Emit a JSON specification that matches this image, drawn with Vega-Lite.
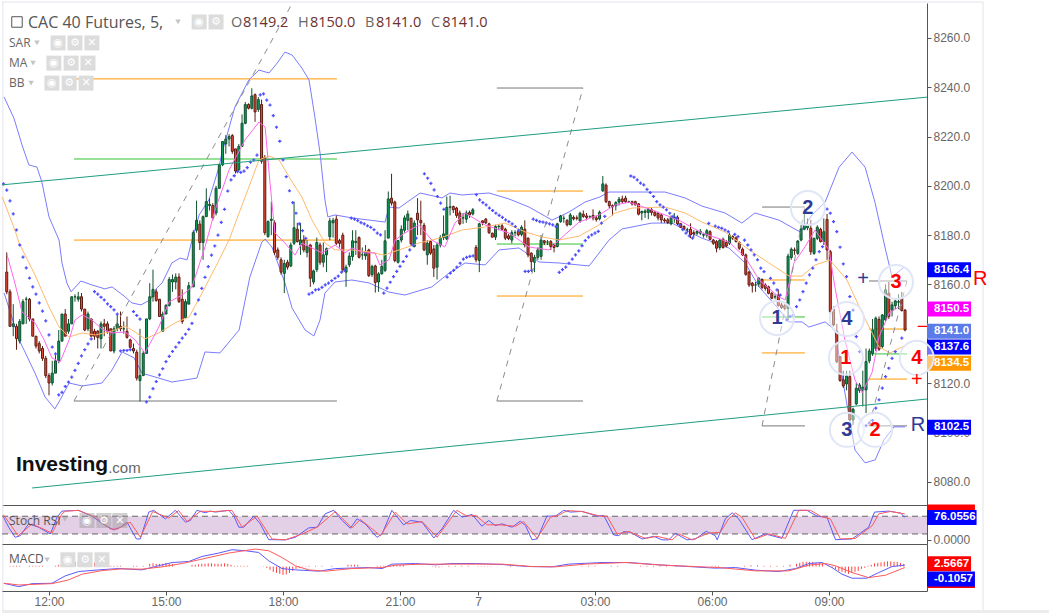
{
"$schema":"https://vega.github.io/schema/vega-lite/v6.json",
"background":"white",
"padding":{"left":0,"top":1,"right":0,"bottom":0},
"spacing":0,
"bounds":"flush",
"config":{"view":{"stroke":null},"font":"Liberation Sans","axis":{"grid":false,"domainColor":"#555","tickColor":"#555","labelColor":"#666","labelFont":"Liberation Sans","labelFontSize":12,"tickSize":4,"labelPadding":2}},
"datasets":{
"candles":[
{"bar":-13,"o":8165,"h":8173,"l":8156,"c":8157},{"bar":-12,"o":8157,"h":8158,"l":8143,"c":8143},{"bar":-11,"o":8143,"h":8152,"l":8139,"c":8144},{"bar":-10,"o":8143,"h":8144,"l":8133.5,"c":8138},{"bar":-9,"o":8137,"h":8146,"l":8136,"c":8145},{"bar":-8,"o":8144,"h":8154,"l":8144,"c":8153},{"bar":-7,"o":8154,"h":8155,"l":8144,"c":8154},{"bar":-6,"o":8154,"h":8154.5,"l":8145,"c":8146},{"bar":-5,"o":8146,"h":8146,"l":8139,"c":8139},{"bar":-4,"o":8139,"h":8139,"l":8134,"c":8135},{"bar":-3,"o":8136,"h":8137,"l":8132,"c":8133},{"bar":-2,"o":8134,"h":8135,"l":8129,"c":8130},{"bar":-1,"o":8130,"h":8131,"l":8122,"c":8123},
{"bar":0,"o":8123,"h":8124,"l":8115,"c":8120},{"bar":1,"o":8120,"h":8129,"l":8119,"c":8124},{"bar":2,"o":8124,"h":8132,"l":8124,"c":8129},{"bar":3,"o":8129,"h":8141.5,"l":8128,"c":8137},{"bar":4,"o":8137,"h":8148,"l":8137,"c":8148},{"bar":5,"o":8148,"h":8150,"l":8139,"c":8139},{"bar":6,"o":8141,"h":8146,"l":8140,"c":8144},{"bar":7,"o":8144,"h":8155,"l":8144,"c":8155},{"bar":8,"o":8155,"h":8156,"l":8153,"c":8155},{"bar":9,"o":8154,"h":8157,"l":8153,"c":8155},{"bar":10,"o":8155,"h":8156.5,"l":8149,"c":8150},{"bar":11,"o":8150,"h":8150,"l":8141,"c":8141.5},{"bar":12,"o":8142,"h":8149,"l":8141,"c":8148},{"bar":13,"o":8146,"h":8146,"l":8139,"c":8139},{"bar":14,"o":8141,"h":8142,"l":8137.5,"c":8139},{"bar":15,"o":8141,"h":8141.5,"l":8134,"c":8138.5},{"bar":16,"o":8138,"h":8145,"l":8134,"c":8144},{"bar":17,"o":8144,"h":8146,"l":8139,"c":8143},{"bar":18,"o":8144,"h":8145,"l":8140,"c":8141},{"bar":19,"o":8142,"h":8142,"l":8133,"c":8133},{"bar":20,"o":8133,"h":8143,"l":8132,"c":8142},{"bar":21,"o":8142,"h":8148,"l":8141,"c":8144},{"bar":22,"o":8143,"h":8149,"l":8141,"c":8142},{"bar":23,"o":8142,"h":8145,"l":8140,"c":8142},{"bar":24,"o":8141,"h":8147,"l":8138,"c":8138.5},{"bar":25,"o":8137.5,"h":8138,"l":8134,"c":8134.5},{"bar":26,"o":8134,"h":8136,"l":8132,"c":8133},{"bar":27,"o":8132.5,"h":8133.5,"l":8121,"c":8122},{"bar":28,"o":8121,"h":8142,"l":8112.5,"c":8123},{"bar":29,"o":8123,"h":8133,"l":8123,"c":8132},{"bar":30,"o":8132,"h":8146,"l":8132,"c":8146},{"bar":31,"o":8146,"h":8160.5,"l":8145.5,"c":8155},{"bar":32,"o":8155,"h":8166,"l":8153,"c":8158},{"bar":33,"o":8157,"h":8158,"l":8153,"c":8153.5},{"bar":34,"o":8154,"h":8154,"l":8147,"c":8147},{"bar":35,"o":8141,"h":8149,"l":8141,"c":8148},{"bar":36,"o":8148,"h":8152,"l":8148,"c":8151.5},{"bar":37,"o":8151.5,"h":8163,"l":8151,"c":8162},{"bar":38,"o":8161,"h":8164,"l":8157,"c":8162},{"bar":39,"o":8161,"h":8164.5,"l":8158,"c":8163},{"bar":40,"o":8163,"h":8164.5,"l":8152.5,"c":8153},{"bar":41,"o":8154,"h":8158,"l":8144,"c":8145},{"bar":42,"o":8146.5,"h":8154,"l":8146,"c":8153},{"bar":43,"o":8152,"h":8161,"l":8152,"c":8159.5},
{"bar":44.4,"o":8159,"h":8182,"l":8159,"c":8181},{"bar":45.4,"o":8182,"h":8194,"l":8181,"c":8186},{"bar":46.4,"o":8184.5,"h":8186,"l":8174,"c":8177},{"bar":47.4,"o":8177,"h":8188,"l":8170,"c":8187.5},{"bar":48.4,"o":8187.5,"h":8199,"l":8187.5,"c":8193.6},{"bar":49.4,"o":8192,"h":8195,"l":8190,"c":8192.5},{"bar":50.4,"o":8192,"h":8193,"l":8186,"c":8187},{"bar":51.4,"o":8189,"h":8200,"l":8188,"c":8199},{"bar":52.4,"o":8199,"h":8209,"l":8199,"c":8208.5},{"bar":53.4,"o":8208.5,"h":8218,"l":8208,"c":8218},{"bar":54.4,"o":8217,"h":8220.6,"l":8213,"c":8219},{"bar":55.4,"o":8219,"h":8221,"l":8216,"c":8220},{"bar":56.4,"o":8220.4,"h":8221,"l":8213,"c":8214},{"bar":57.4,"o":8215,"h":8215,"l":8205,"c":8206},{"bar":58.4,"o":8206.5,"h":8217,"l":8206,"c":8216},{"bar":59.4,"o":8216,"h":8229,"l":8216,"c":8225.4},{"bar":60.4,"o":8225.4,"h":8234,"l":8225,"c":8233},{"bar":61.4,"o":8233,"h":8233.5,"l":8231,"c":8231.5},{"bar":62.4,"o":8231.5,"h":8239.6,"l":8231,"c":8236.5},{"bar":63.4,"o":8237,"h":8237.5,"l":8226,"c":8230},{"bar":64.4,"o":8231,"h":8236,"l":8230,"c":8235},{"bar":65.4,"o":8233,"h":8235,"l":8209,"c":8210},{"bar":66.4,"o":8211.5,"h":8212.5,"l":8180,"c":8181},{"bar":67.4,"o":8179.4,"h":8186,"l":8179,"c":8185.5},{"bar":68.4,"o":8186,"h":8193.6,"l":8180,"c":8186.5},{"bar":69.4,"o":8185,"h":8186,"l":8172,"c":8173},{"bar":70.4,"o":8174,"h":8175,"l":8170,"c":8171},{"bar":71.4,"o":8170,"h":8171,"l":8164,"c":8165},{"bar":72.4,"o":8164.5,"h":8170,"l":8156.5,"c":8168.5},{"bar":73.4,"o":8169,"h":8170,"l":8166,"c":8167},{"bar":74.4,"o":8167.5,"h":8177,"l":8167,"c":8176},{"bar":75.4,"o":8176.7,"h":8193.6,"l":8176,"c":8183},{"bar":76.4,"o":8182.4,"h":8185,"l":8177,"c":8177.4},{"bar":77.4,"o":8176,"h":8185,"l":8172,"c":8178},{"bar":78.4,"o":8178,"h":8180,"l":8173,"c":8174},{"bar":79.4,"o":8173,"h":8178,"l":8171,"c":8175.5},{"bar":80.4,"o":8176,"h":8176.5,"l":8159,"c":8162.5},{"bar":81.4,"o":8161,"h":8166,"l":8160,"c":8165.5},{"bar":82.4,"o":8166,"h":8179,"l":8165,"c":8177},{"bar":83.4,"o":8176,"h":8177,"l":8168,"c":8169},{"bar":84.4,"o":8169,"h":8177,"l":8167,"c":8172},{"bar":85.4,"o":8172,"h":8175,"l":8165,"c":8174.5},{"bar":86.4,"o":8179.4,"h":8187,"l":8178,"c":8185.8},{"bar":87.4,"o":8185,"h":8187,"l":8179,"c":8186},{"bar":88.4,"o":8186.5,"h":8188,"l":8176,"c":8176.7},{"bar":89.4,"o":8177.8,"h":8178.5,"l":8175,"c":8176.7},{"bar":90.4,"o":8180,"h":8181,"l":8165,"c":8166},{"bar":91.4,"o":8165,"h":8168,"l":8159,"c":8167},{"bar":92.4,"o":8168,"h":8173,"l":8167,"c":8171.5},
{"bar":93.4,"o":8171.3,"h":8182,"l":8169.6,"c":8177.7},{"bar":94.4,"o":8177,"h":8182,"l":8172,"c":8177.5},{"bar":95.4,"o":8179,"h":8179.5,"l":8170.5,"c":8171},{"bar":96.4,"o":8172,"h":8175,"l":8170,"c":8172},{"bar":97.4,"o":8171.6,"h":8176,"l":8170,"c":8173.4},{"bar":98.4,"o":8174,"h":8174.5,"l":8163,"c":8163.6},{"bar":99.4,"o":8164,"h":8168,"l":8163,"c":8167.3},{"bar":100.4,"o":8167.5,"h":8168,"l":8156.7,"c":8160.8},{"bar":101.4,"o":8161,"h":8165,"l":8157,"c":8164.3},{"bar":102.4,"o":8164.3,"h":8170,"l":8164,"c":8167.3},{"bar":103.4,"o":8165.7,"h":8182,"l":8165,"c":8177.7},{"bar":104.4,"o":8178.8,"h":8197.7,"l":8178.8,"c":8194.7},{"bar":105.4,"o":8195,"h":8204.9,"l":8192,"c":8193},{"bar":106.4,"o":8193.4,"h":8194,"l":8169,"c":8169.7},{"bar":107.4,"o":8169,"h":8178,"l":8168.5,"c":8177.8},{"bar":108.4,"o":8178,"h":8184,"l":8177,"c":8182.4},{"bar":109.4,"o":8182,"h":8188,"l":8181,"c":8187},{"bar":110.4,"o":8186,"h":8190,"l":8182,"c":8188.6},{"bar":111.4,"o":8186.9,"h":8187,"l":8175.5,"c":8176.5},{"bar":112.4,"o":8175.4,"h":8186,"l":8175,"c":8184.9},{"bar":113.4,"o":8188.9,"h":8195,"l":8180,"c":8186.2},{"bar":114.4,"o":8186,"h":8194,"l":8180,"c":8185},{"bar":115.4,"o":8184,"h":8185,"l":8173.5,"c":8174},{"bar":116.4,"o":8172,"h":8178,"l":8168,"c":8176.7},{"bar":117.4,"o":8177.4,"h":8178,"l":8172,"c":8172.7},{"bar":118.4,"o":8174.4,"h":8176,"l":8163,"c":8166.6},{"bar":119.4,"o":8167,"h":8177,"l":8162,"c":8176},{"bar":120.4,"o":8176,"h":8180,"l":8175,"c":8179},{"bar":121.4,"o":8179,"h":8188,"l":8178,"c":8180.5},{"bar":122.4,"o":8178.4,"h":8195.7,"l":8178,"c":8191.3},{"bar":123.4,"o":8191.3,"h":8196,"l":8188,"c":8191.5},{"bar":124.4,"o":8191.6,"h":8192,"l":8189,"c":8190.3},{"bar":125.4,"o":8191,"h":8191.5,"l":8187,"c":8188},{"bar":126.4,"o":8189,"h":8190,"l":8184,"c":8184.6},{"bar":127.4,"o":8187,"h":8189,"l":8184.6,"c":8187},{"bar":128.4,"o":8186.5,"h":8190,"l":8185,"c":8189},{"bar":129.4,"o":8189.2,"h":8190,"l":8187,"c":8188.2},{"bar":130.4,"o":8188.6,"h":8191,"l":8188,"c":8190.3},{"bar":131.4,"o":8175,"h":8176,"l":8169,"c":8170},{"bar":132.4,"o":8169.7,"h":8185,"l":8165,"c":8184.6},{"bar":133.4,"o":8185.8,"h":8186,"l":8184,"c":8185},{"bar":134.4,"o":8186.5,"h":8187,"l":8184.5,"c":8185},{"bar":135.4,"o":8184.6,"h":8185,"l":8180.5,"c":8181},{"bar":136.4,"o":8180.8,"h":8181,"l":8179,"c":8179.2},{"bar":137.4,"o":8179.2,"h":8184.2,"l":8178,"c":8183.5},{"bar":138.4,"o":8183.5,"h":8184.5,"l":8182,"c":8183.6},{"bar":139.4,"o":8183.8,"h":8184.5,"l":8182,"c":8182.4},{"bar":140.4,"o":8182.4,"h":8183,"l":8178,"c":8178.8},{"bar":141.4,"o":8179.7,"h":8180.5,"l":8178,"c":8178.6},{"bar":142.4,"o":8178,"h":8182,"l":8176.7,"c":8181},{"bar":143.4,"o":8181,"h":8182,"l":8179.5,"c":8181},{"bar":144.4,"o":8181.5,"h":8182,"l":8179.5,"c":8180.1},{"bar":145.4,"o":8180.3,"h":8184,"l":8179.5,"c":8183.2},{"bar":146.4,"o":8182.4,"h":8186,"l":8175,"c":8176},{"bar":147.4,"o":8178.8,"h":8179,"l":8171,"c":8172},{"bar":148.4,"o":8172.7,"h":8173,"l":8166,"c":8169.3},{"bar":149.4,"o":8169,"h":8172,"l":8165,"c":8171},{"bar":150.4,"o":8171,"h":8175,"l":8170,"c":8174},{"bar":151.4,"o":8171.4,"h":8180,"l":8170,"c":8178},{"bar":152.4,"o":8177.7,"h":8178,"l":8176,"c":8177},{"bar":153.4,"o":8177.2,"h":8178,"l":8176,"c":8177.2},{"bar":154.4,"o":8177.4,"h":8178,"l":8174,"c":8175.4},{"bar":155.4,"o":8176,"h":8176.5,"l":8173,"c":8175},{"bar":156.4,"o":8175.4,"h":8185,"l":8175,"c":8184.6},{"bar":157.4,"o":8185.5,"h":8188.2,"l":8185,"c":8187.8},{"bar":158.4,"o":8186.8,"h":8188,"l":8185,"c":8186.8},{"bar":159.4,"o":8186,"h":8186.5,"l":8183.5,"c":8184.2},{"bar":160.4,"o":8184.2,"h":8189,"l":8184,"c":8188.2},{"bar":161.4,"o":8187.2,"h":8188,"l":8186,"c":8186.6},{"bar":162.4,"o":8187,"h":8188,"l":8186,"c":8186.8},{"bar":163.4,"o":8185.8,"h":8189.5,"l":8185,"c":8188.9},{"bar":164.4,"o":8188.5,"h":8190,"l":8187,"c":8187.6},{"bar":165.4,"o":8187.8,"h":8189,"l":8186,"c":8187.2},{"bar":166.4,"o":8187.5,"h":8188,"l":8187,"c":8187.5},{"bar":167.4,"o":8188,"h":8190.5,"l":8186,"c":8187},{"bar":168.4,"o":8187,"h":8188,"l":8185.5,"c":8186.3},{"bar":169.4,"o":8186.6,"h":8190,"l":8186,"c":8189.3},{"bar":170.4,"o":8198,"h":8204,"l":8197.5,"c":8200.8},{"bar":171.4,"o":8200.3,"h":8201,"l":8193,"c":8193.6},{"bar":172.4,"o":8193.6,"h":8194,"l":8191,"c":8191.9},{"bar":173.4,"o":8192,"h":8192.5,"l":8188,"c":8191.5},{"bar":174.4,"o":8191.9,"h":8193.8,"l":8190,"c":8193.2},{"bar":175.4,"o":8193.4,"h":8195.5,"l":8192,"c":8194.6},{"bar":176.4,"o":8194.7,"h":8196,"l":8193,"c":8193.6},{"bar":177.4,"o":8195,"h":8196,"l":8193,"c":8193.6},{"bar":178.4,"o":8193.6,"h":8194,"l":8193,"c":8193.6},{"bar":179.4,"o":8193.6,"h":8194,"l":8192,"c":8192.7},{"bar":180.4,"o":8193.6,"h":8194,"l":8192,"c":8192.3},{"bar":181.4,"o":8192.7,"h":8193,"l":8188,"c":8188.5},{"bar":182.4,"o":8189,"h":8190,"l":8186,"c":8189.6},{"bar":183.4,"o":8189.2,"h":8190.5,"l":8187,"c":8189.8},{"bar":184.4,"o":8189.2,"h":8191,"l":8186.5,"c":8190.5},{"bar":185.4,"o":8190.3,"h":8191,"l":8188,"c":8189.2},{"bar":186.4,"o":8189.3,"h":8190,"l":8187.5,"c":8188},{"bar":187.4,"o":8188.9,"h":8189.5,"l":8186,"c":8187},{"bar":188.4,"o":8188.2,"h":8188.5,"l":8185,"c":8186.2},{"bar":189.4,"o":8186.2,"h":8187,"l":8185,"c":8185.8},{"bar":190.4,"o":8186.2,"h":8187,"l":8184.5,"c":8185.1},{"bar":191.4,"o":8184.6,"h":8188,"l":8184,"c":8187.2},{"bar":192.4,"o":8187,"h":8189,"l":8185,"c":8187.3},{"bar":193.4,"o":8187.2,"h":8188,"l":8184,"c":8184.6},{"bar":194.4,"o":8184.6,"h":8185,"l":8183,"c":8183.2},{"bar":195.4,"o":8183.5,"h":8184,"l":8182,"c":8182.6},{"bar":196.4,"o":8182.2,"h":8183,"l":8181,"c":8182.2},{"bar":197.4,"o":8182.4,"h":8184.8,"l":8178.8,"c":8180.1},{"bar":198.4,"o":8181,"h":8182,"l":8179,"c":8180.5},{"bar":199.4,"o":8180.8,"h":8182,"l":8180,"c":8181.5},{"bar":200.4,"o":8180.8,"h":8182.5,"l":8180,"c":8181.5},
{"bar":201.4,"o":8180,"h":8181,"l":8179,"c":8180.2},{"bar":202.4,"o":8180,"h":8182.5,"l":8179,"c":8181.8},{"bar":203.4,"o":8181.4,"h":8182,"l":8178,"c":8178.3},{"bar":204.4,"o":8178,"h":8178.5,"l":8176,"c":8176.7},{"bar":205.4,"o":8177.4,"h":8178,"l":8173,"c":8174.7},{"bar":206.4,"o":8175,"h":8178.5,"l":8174,"c":8178},{"bar":207.4,"o":8178.3,"h":8179,"l":8174.5,"c":8175},{"bar":208.4,"o":8177,"h":8178,"l":8175,"c":8175.6},{"bar":209.4,"o":8176.7,"h":8181,"l":8176,"c":8180},{"bar":210.4,"o":8179.4,"h":8180,"l":8178,"c":8178.7},{"bar":211.4,"o":8178.9,"h":8179.5,"l":8177,"c":8177.4},{"bar":212.4,"o":8177,"h":8177.5,"l":8174,"c":8174.7},{"bar":213.4,"o":8174.3,"h":8175,"l":8171.5,"c":8172},{"bar":214.4,"o":8172,"h":8172.5,"l":8163.5,"c":8164.1},{"bar":215.4,"o":8165,"h":8165.5,"l":8159,"c":8159.8},{"bar":216.4,"o":8160.5,"h":8161,"l":8156.7,"c":8159.5},{"bar":217.4,"o":8159.8,"h":8161,"l":8157,"c":8159.8},{"bar":218.4,"o":8160.2,"h":8163,"l":8159,"c":8162.5},{"bar":219.4,"o":8162,"h":8162.5,"l":8158,"c":8158.8},{"bar":220.4,"o":8159.8,"h":8160.5,"l":8157.5,"c":8158.4},{"bar":221.4,"o":8159,"h":8159.5,"l":8156,"c":8156.4},{"bar":222.4,"o":8156.4,"h":8157,"l":8154,"c":8154.4},{"bar":223.4,"o":8155,"h":8156,"l":8154,"c":8155},{"bar":224.4,"o":8155.7,"h":8158,"l":8151,"c":8151.4},{"bar":225.4,"o":8151.7,"h":8152.5,"l":8150,"c":8150.6},{"bar":226.4,"o":8151.4,"h":8152,"l":8149.5,"c":8150.3},{"bar":227.4,"o":8150.3,"h":8172.5,"l":8145.6,"c":8171.5},{"bar":228.4,"o":8170.9,"h":8175,"l":8170,"c":8174.3},{"bar":229.4,"o":8174,"h":8175,"l":8172,"c":8173.8},{"bar":230.4,"o":8172.6,"h":8178,"l":8172,"c":8177.6},{"bar":231.4,"o":8178,"h":8184,"l":8177.5,"c":8182.5},{"bar":232.4,"o":8182.4,"h":8188.9,"l":8182,"c":8184.1},{"bar":233.4,"o":8183,"h":8186.8,"l":8182,"c":8184.1},{"bar":234.4,"o":8182.8,"h":8186.2,"l":8172,"c":8173.3},{"bar":235.4,"o":8172.6,"h":8179,"l":8172,"c":8178.7},{"bar":236.4,"o":8178.7,"h":8184,"l":8178,"c":8183.2},{"bar":237.4,"o":8182.4,"h":8183,"l":8177,"c":8177.4},{"bar":238.4,"o":8177.4,"h":8186.8,"l":8176,"c":8181.4},{"bar":239.4,"o":8186.4,"h":8188.6,"l":8170,"c":8174},{"bar":240.4,"o":8173.3,"h":8174,"l":8148,"c":8149},{"bar":241.4,"o":8150,"h":8151,"l":8143,"c":8143.6},{"bar":242.4,"o":8141,"h":8144,"l":8128,"c":8128.7},{"bar":243.4,"o":8130.7,"h":8131,"l":8120.5,"c":8121},{"bar":244.4,"o":8121.3,"h":8125,"l":8118,"c":8118.8},{"bar":245.4,"o":8119.6,"h":8125,"l":8117,"c":8122.9},{"bar":246.4,"o":8122.6,"h":8125,"l":8105,"c":8105},{"bar":247.4,"o":8105,"h":8110,"l":8103,"c":8109.4},{"bar":248.4,"o":8111.5,"h":8120,"l":8111,"c":8117.9},{"bar":249.4,"o":8117,"h":8120,"l":8116,"c":8119.2},{"bar":250.4,"o":8117,"h":8125,"l":8110.5,"c":8118.3},{"bar":251.4,"o":8117.2,"h":8134,"l":8107.8,"c":8128.7},{"bar":252.4,"o":8129,"h":8134,"l":8128,"c":8133},{"bar":253.4,"o":8132,"h":8146,"l":8131,"c":8141.5},{"bar":254.4,"o":8134,"h":8147,"l":8133,"c":8146.3},{"bar":255.4,"o":8145.8,"h":8147,"l":8133,"c":8133.7},{"bar":256.4,"o":8134.8,"h":8148,"l":8134,"c":8147.6},{"bar":257.4,"o":8145.6,"h":8160,"l":8145,"c":8157.8},{"bar":258.4,"o":8156.4,"h":8161,"l":8146,"c":8147},{"bar":259.4,"o":8149.6,"h":8153,"l":8147,"c":8151.7},{"bar":260.4,"o":8151.4,"h":8154,"l":8150,"c":8153.3},{"bar":261.4,"o":8152.8,"h":8156,"l":8150,"c":8153},{"bar":262.4,"o":8154.4,"h":8157,"l":8149,"c":8149.4},{"bar":263.4,"o":8149.6,"h":8150,"l":8141,"c":8141.5}
],
"lines":[
{"s":"u","bar":-13.8,"price":8236},{"s":"u","bar":-10.8,"price":8227.5},{"s":"u","bar":-8.3,"price":8216.6},{"s":"u","bar":-6.2,"price":8208.5},{"s":"u","bar":-3.7,"price":8207.6},{"s":"u","bar":-2.2,"price":8201.6},{"s":"u","bar":0,"price":8187.4},{"s":"u","bar":3.1,"price":8178},{"s":"u","bar":4,"price":8168.7},{"s":"u","bar":5.5,"price":8160.6},{"s":"u","bar":6.8,"price":8157},{"s":"u","bar":9.8,"price":8161.4},{"s":"u","bar":13.2,"price":8159.8},{"s":"u","bar":17.2,"price":8158.2},{"s":"u","bar":19.4,"price":8159},{"s":"u","bar":23.1,"price":8155.3},{"s":"u","bar":25.5,"price":8152.5},{"s":"u","bar":28.3,"price":8151.7},{"s":"u","bar":31.1,"price":8153.7},{"s":"u","bar":33.2,"price":8158.6},{"s":"u","bar":34.8,"price":8160.6},{"s":"u","bar":37.8,"price":8168.7},{"s":"u","bar":40.3,"price":8170.7},{"s":"u","bar":42.5,"price":8170},{"s":"u","bar":44,"price":8178},{"s":"u","bar":46.2,"price":8188.2},{"s":"u","bar":49.2,"price":8194.3},{"s":"u","bar":52.3,"price":8207.6},{"s":"u","bar":53.2,"price":8213.3},{"s":"u","bar":55.4,"price":8223.5},{"s":"u","bar":57.2,"price":8232},{"s":"u","bar":61.5,"price":8243},{"s":"u","bar":64.6,"price":8247},{"s":"u","bar":67.7,"price":8245.8},{"s":"u","bar":70.2,"price":8249.8},{"s":"u","bar":72.6,"price":8254.3},{"s":"u","bar":74.8,"price":8253.1},{"s":"u","bar":77.8,"price":8247.8},{"s":"u","bar":80,"price":8243},{"s":"u","bar":81.8,"price":8228},{"s":"u","bar":83.4,"price":8213.3},{"s":"u","bar":84.9,"price":8194.3},{"s":"u","bar":85.8,"price":8187.4},{"s":"u","bar":88,"price":8188.2},{"s":"u","bar":93.2,"price":8187},{"s":"u","bar":103.4,"price":8185.3},{"s":"u","bar":104.6,"price":8191.4},{"s":"u","bar":107.7,"price":8191},{"s":"u","bar":110.2,"price":8193.4},{"s":"u","bar":114.2,"price":8197.1},{"s":"u","bar":120.9,"price":8195.1},{"s":"u","bar":123.4,"price":8197.1},{"s":"u","bar":127.1,"price":8196.3},{"s":"u","bar":135.4,"price":8197.1},{"s":"u","bar":141.5,"price":8194.7},{"s":"u","bar":147.7,"price":8191.4},{"s":"u","bar":154.8,"price":8186.1},{"s":"u","bar":160,"price":8189.4},{"s":"u","bar":164.9,"price":8193.4},{"s":"u","bar":169.5,"price":8195.5},{"s":"u","bar":172.3,"price":8197.5},{"s":"u","bar":179.4,"price":8197.5},{"s":"u","bar":189.5,"price":8197.5},{"s":"u","bar":195.7,"price":8195.1},{"s":"u","bar":200.9,"price":8191.8},{"s":"u","bar":208,"price":8189},{"s":"u","bar":213.2,"price":8184.9},{"s":"u","bar":217.2,"price":8189},{"s":"u","bar":224.6,"price":8186.1},{"s":"u","bar":231.1,"price":8181.3},{"s":"u","bar":234.8,"price":8188.2},{"s":"u","bar":238.8,"price":8193.4},{"s":"u","bar":243.1,"price":8207.6},{"s":"u","bar":247.1,"price":8213.7},{"s":"u","bar":251.1,"price":8207.6},{"s":"u","bar":254.2,"price":8193},{"s":"u","bar":257.2,"price":8175.2},{"s":"u","bar":259.4,"price":8163},{"s":"u","bar":263.1,"price":8167},
{"s":"l","bar":-13.8,"price":8156.5},{"s":"l","bar":-9.2,"price":8137.5},{"s":"l","bar":-7.4,"price":8132.6},{"s":"l","bar":-4.3,"price":8124},{"s":"l","bar":-1.2,"price":8114.3},{"s":"l","bar":1.8,"price":8109.5},{"s":"l","bar":3.4,"price":8113.1},{"s":"l","bar":6.2,"price":8120},{"s":"l","bar":10.2,"price":8118.8},{"s":"l","bar":16.3,"price":8120},{"s":"l","bar":19.4,"price":8125.3},{"s":"l","bar":22.5,"price":8132.6},{"s":"l","bar":26.2,"price":8130.2},{"s":"l","bar":28.6,"price":8124},{"s":"l","bar":33.8,"price":8122},{"s":"l","bar":37.8,"price":8120.4},{"s":"l","bar":45.5,"price":8122},{"s":"l","bar":48,"price":8132.6},{"s":"l","bar":52.6,"price":8132.2},{"s":"l","bar":58.5,"price":8141.5},{"s":"l","bar":61.8,"price":8163},{"s":"l","bar":65.5,"price":8177.2},{"s":"l","bar":66.5,"price":8178.4},{"s":"l","bar":68.6,"price":8175.2},{"s":"l","bar":72.6,"price":8160.6},{"s":"l","bar":74.8,"price":8150.4},{"s":"l","bar":78.8,"price":8141.5},{"s":"l","bar":81.5,"price":8139.1},{"s":"l","bar":83.4,"price":8145.6},{"s":"l","bar":84.9,"price":8156.5},{"s":"l","bar":88,"price":8161},{"s":"l","bar":93.2,"price":8161.8},{"s":"l","bar":98.5,"price":8160.6},{"s":"l","bar":104.6,"price":8156.9},{"s":"l","bar":109.5,"price":8155.7},{"s":"l","bar":117.8,"price":8159},{"s":"l","bar":123.1,"price":8164.6},{"s":"l","bar":128,"price":8168.7},{"s":"l","bar":134.2,"price":8167.9},{"s":"l","bar":138.5,"price":8174},{"s":"l","bar":144.6,"price":8174.8},{"s":"l","bar":150.8,"price":8169.1},{"s":"l","bar":156.9,"price":8168.7},{"s":"l","bar":166.2,"price":8167.5},{"s":"l","bar":172.3,"price":8178},{"s":"l","bar":176.3,"price":8182.5},{"s":"l","bar":185.5,"price":8184.9},{"s":"l","bar":191.7,"price":8184.9},{"s":"l","bar":195.7,"price":8182.1},{"s":"l","bar":200.9,"price":8178.8},{"s":"l","bar":209.2,"price":8174.8},{"s":"l","bar":214.2,"price":8168.7},{"s":"l","bar":218.5,"price":8159},{"s":"l","bar":223.4,"price":8151.7},{"s":"l","bar":227.7,"price":8144.8},{"s":"l","bar":231.7,"price":8144.8},{"s":"l","bar":233.8,"price":8142.7},{"s":"l","bar":238.8,"price":8144.8},{"s":"l","bar":241.8,"price":8141.5},{"s":"l","bar":244.9,"price":8116},{"s":"l","bar":248,"price":8092.8},{"s":"l","bar":251.1,"price":8087.6},{"s":"l","bar":254.2,"price":8088.8},{"s":"l","bar":256.9,"price":8096.9},{"s":"l","bar":260,"price":8102.2},{"s":"l","bar":263.4,"price":8102.2},
{"s":"slow","bar":-14.4,"price":8195.5},{"s":"slow","bar":-10.5,"price":8182.1},{"s":"slow","bar":-9.2,"price":8176.8},{"s":"slow","bar":-4.3,"price":8163.8},{"s":"slow","bar":0,"price":8150.9},{"s":"slow","bar":3.1,"price":8142.7},{"s":"slow","bar":6.2,"price":8138.7},{"s":"slow","bar":10.2,"price":8140.3},{"s":"slow","bar":14.2,"price":8139.5},{"s":"slow","bar":18.5,"price":8140.7},{"s":"slow","bar":23.4,"price":8143.1},{"s":"slow","bar":26.5,"price":8140.7},{"s":"slow","bar":29.5,"price":8137.9},{"s":"slow","bar":33.8,"price":8140.3},{"s":"slow","bar":38.8,"price":8144.4},{"s":"slow","bar":43.1,"price":8146.8},{"s":"slow","bar":47.1,"price":8156.5},{"s":"slow","bar":51.1,"price":8166.7},{"s":"slow","bar":55.4,"price":8178},{"s":"slow","bar":58.5,"price":8189},{"s":"slow","bar":61.5,"price":8199.5},{"s":"slow","bar":64.6,"price":8210.5},{"s":"slow","bar":67.7,"price":8212.1},{"s":"slow","bar":70.8,"price":8210.5},{"s":"slow","bar":74.8,"price":8201.6},{"s":"slow","bar":77.8,"price":8195.5},{"s":"slow","bar":80.9,"price":8186.2},{"s":"slow","bar":84.9,"price":8176.8},{"s":"slow","bar":88,"price":8174},{"s":"slow","bar":93.2,"price":8174},{"s":"slow","bar":98.5,"price":8173.2},{"s":"slow","bar":103.1,"price":8171.9},{"s":"slow","bar":107.7,"price":8174},{"s":"slow","bar":113.8,"price":8176.8},{"s":"slow","bar":120.3,"price":8178.8},{"s":"slow","bar":127.1,"price":8182.1},{"s":"slow","bar":134.2,"price":8183.3},{"s":"slow","bar":140.3,"price":8184.9},{"s":"slow","bar":146.5,"price":8181.3},{"s":"slow","bar":151.7,"price":8179.3},{"s":"slow","bar":156.9,"price":8178},{"s":"slow","bar":163.1,"price":8179.6},{"s":"slow","bar":169.2,"price":8184.1},{"s":"slow","bar":174.2,"price":8189},{"s":"slow","bar":179.4,"price":8191},{"s":"slow","bar":189.5,"price":8191.4},{"s":"slow","bar":195.7,"price":8189},{"s":"slow","bar":200.9,"price":8185.3},{"s":"slow","bar":208,"price":8181.3},{"s":"slow","bar":214.2,"price":8175.2},{"s":"slow","bar":221.5,"price":8168.7},{"s":"slow","bar":227.7,"price":8163.4},{"s":"slow","bar":231.7,"price":8163.4},{"s":"slow","bar":235.7,"price":8167.9},{"s":"slow","bar":240.3,"price":8169.9},{"s":"slow","bar":245.5,"price":8161.8},{"s":"slow","bar":250.2,"price":8148.4},{"s":"slow","bar":255.4,"price":8134.6},{"s":"slow","bar":258.8,"price":8132.2},{"s":"slow","bar":263.1,"price":8135},
{"s":"fast","bar":-12.9,"price":8172},{"s":"fast","bar":-10.5,"price":8160.6},{"s":"fast","bar":-8.3,"price":8148.8},{"s":"fast","bar":-4.3,"price":8144.4},{"s":"fast","bar":-1.5,"price":8137.5},{"s":"fast","bar":0.9,"price":8130.2},{"s":"fast","bar":3.4,"price":8128.5},{"s":"fast","bar":6.2,"price":8137.5},{"s":"fast","bar":8,"price":8145.6},{"s":"fast","bar":10.2,"price":8147.6},{"s":"fast","bar":13.2,"price":8145.6},{"s":"fast","bar":16.3,"price":8141.9},{"s":"fast","bar":19.4,"price":8140.3},{"s":"fast","bar":23.4,"price":8140.7},{"s":"fast","bar":26.5,"price":8137.5},{"s":"fast","bar":29.5,"price":8132.2},{"s":"fast","bar":33.8,"price":8142.7},{"s":"fast","bar":36.9,"price":8152.9},{"s":"fast","bar":41,"price":8155.7},{"s":"fast","bar":44,"price":8159},{"s":"fast","bar":48,"price":8175.2},{"s":"fast","bar":51.1,"price":8190.2},{"s":"fast","bar":55.4,"price":8206.4},{"s":"fast","bar":60.3,"price":8218.6},{"s":"fast","bar":64.6,"price":8225.9},{"s":"fast","bar":66.5,"price":8223.9},{"s":"fast","bar":68,"price":8201.2},{"s":"fast","bar":69.5,"price":8180.9},{"s":"fast","bar":72.6,"price":8176.8},{"s":"fast","bar":75.7,"price":8171.9},{"s":"fast","bar":77.8,"price":8176.8},{"s":"fast","bar":84,"price":8172.8},{"s":"fast","bar":88,"price":8176},{"s":"fast","bar":91.1,"price":8172.8},{"s":"fast","bar":93.2,"price":8174.8},{"s":"fast","bar":97.2,"price":8172.8},{"s":"fast","bar":100.3,"price":8172.8},{"s":"fast","bar":101.8,"price":8167.9},{"s":"fast","bar":104.6,"price":8170},{"s":"fast","bar":106.5,"price":8178},{"s":"fast","bar":109.5,"price":8180.9},{"s":"fast","bar":113.8,"price":8184.1},{"s":"fast","bar":117.8,"price":8178},{"s":"fast","bar":121.8,"price":8175.2},{"s":"fast","bar":124.9,"price":8184.9},{"s":"fast","bar":128,"price":8189},{"s":"fast","bar":134.2,"price":8184.1},{"s":"fast","bar":141.5,"price":8180.9},{"s":"fast","bar":147.7,"price":8175.2},{"s":"fast","bar":153.8,"price":8174},{"s":"fast","bar":156.9,"price":8178},{"s":"fast","bar":163.1,"price":8185.3},{"s":"fast","bar":169.2,"price":8188.2},{"s":"fast","bar":174.2,"price":8192.2},{"s":"fast","bar":178.5,"price":8193.4},{"s":"fast","bar":185.5,"price":8190.2},{"s":"fast","bar":193.8,"price":8186.1},{"s":"fast","bar":200.9,"price":8180.9},{"s":"fast","bar":209.2,"price":8177.2},{"s":"fast","bar":214.2,"price":8171.1},{"s":"fast","bar":218.5,"price":8161.8},{"s":"fast","bar":224.6,"price":8154.9},{"s":"fast","bar":226.5,"price":8153.7},{"s":"fast","bar":229.2,"price":8168.7},{"s":"fast","bar":232.6,"price":8175.2},{"s":"fast","bar":235.7,"price":8182.1},{"s":"fast","bar":240,"price":8174},{"s":"fast","bar":241.8,"price":8159},{"s":"fast","bar":244.9,"price":8137.5},{"s":"fast","bar":248,"price":8121.2},{"s":"fast","bar":250.2,"price":8116},{"s":"fast","bar":253.2,"price":8124.1},{"s":"fast","bar":255.4,"price":8138.7},{"s":"fast","bar":258.5,"price":8148.4},{"s":"fast","bar":262.5,"price":8151.7}
],
"sar":[
{"bar":-14,"price":8200.8},{"bar":-13,"price":8198.3},{"bar":-12,"price":8193.9},{"bar":-11,"price":8188.6},{"bar":-10,"price":8182.1},{"bar":-9,"price":8176},{"bar":-8,"price":8171.1},{"bar":-7,"price":8166.7},{"bar":-6,"price":8162.6},{"bar":-5,"price":8159},{"bar":-4,"price":8156.1},{"bar":-3,"price":8152.5},{"bar":-2,"price":8149.2},{"bar":-1,"price":8145.2},{"bar":0,"price":8139.5},{"bar":1,"price":8134.6},{"bar":2,"price":8131.8},
{"bar":3,"price":8115.2},{"bar":4,"price":8116.2},{"bar":5,"price":8118.6},{"bar":6,"price":8120.4},{"bar":7,"price":8122.4},{"bar":8,"price":8125.1},{"bar":9,"price":8128},{"bar":10,"price":8131},{"bar":11,"price":8133.5},{"bar":12,"price":8135.9},{"bar":13,"price":8137.9},
{"bar":14,"price":8157.1},{"bar":15,"price":8156.1},{"bar":16,"price":8154.8},{"bar":17,"price":8153.7},{"bar":18,"price":8152.1},{"bar":19,"price":8151},{"bar":20,"price":8149.7},{"bar":21,"price":8148},
{"bar":22,"price":8133},{"bar":23,"price":8133.2},{"bar":24,"price":8133.2},{"bar":25,"price":8133.5},{"bar":26,"price":8149},{"bar":27,"price":8147.4},{"bar":28,"price":8145.9},
{"bar":30,"price":8112.3},{"bar":31,"price":8114.3},{"bar":32,"price":8117.7},{"bar":33,"price":8120.6},{"bar":34,"price":8123.3},{"bar":35,"price":8125.8},{"bar":36,"price":8128.7},{"bar":37,"price":8130.8},{"bar":38,"price":8132.8},{"bar":39,"price":8134.6},{"bar":40,"price":8136.4},{"bar":41,"price":8138.2},{"bar":42,"price":8139.8},{"bar":43,"price":8141.8},{"bar":44,"price":8144.2},{"bar":45,"price":8148},{"bar":46,"price":8153.7},{"bar":47,"price":8158.4},{"bar":48,"price":8162.9},{"bar":49,"price":8167.2},{"bar":50,"price":8171.9},{"bar":51,"price":8175.6},{"bar":52,"price":8180},{"bar":53,"price":8185.2},{"bar":54,"price":8190.5},{"bar":55,"price":8197.9},{"bar":56,"price":8202.4},{"bar":57,"price":8204.1},{"bar":58,"price":8205.8},{"bar":59,"price":8205.5},{"bar":60,"price":8206},{"bar":61,"price":8207.4},{"bar":62,"price":8209.6},{"bar":63,"price":8210.5},{"bar":64,"price":8212.5},
{"bar":65,"price":8236.9},{"bar":66,"price":8237.3},{"bar":67,"price":8234.8},{"bar":68,"price":8232.8},{"bar":69,"price":8228.5},{"bar":70,"price":8223.8},{"bar":71,"price":8218.1},{"bar":72,"price":8210.5},{"bar":73,"price":8203.7},{"bar":74,"price":8198},{"bar":75,"price":8193.2},{"bar":76,"price":8188.9},{"bar":77,"price":8184.6},{"bar":78,"price":8181.8},{"bar":79,"price":8178.7},
{"bar":80,"price":8156.1},{"bar":81,"price":8156.7},{"bar":82,"price":8157.8},{"bar":83,"price":8158},{"bar":84,"price":8158.8},{"bar":85,"price":8159.8},{"bar":86,"price":8160.5},{"bar":87,"price":8161.5},{"bar":88,"price":8162.5},{"bar":89,"price":8163.4},{"bar":90,"price":8165},{"bar":91,"price":8165.8},
{"bar":93,"price":8186.9},{"bar":94,"price":8186.5},{"bar":95,"price":8185.9},{"bar":96,"price":8185.1},{"bar":97,"price":8184.6},{"bar":98,"price":8183.8},{"bar":99,"price":8183.2},{"bar":100,"price":8182.2},{"bar":101,"price":8180.8},{"bar":102,"price":8180.1},
{"bar":103,"price":8156.5},{"bar":104,"price":8158.5},{"bar":105,"price":8160.9},{"bar":106,"price":8163.2},{"bar":107,"price":8165.3},{"bar":108,"price":8167.3},{"bar":109,"price":8169.3},{"bar":110,"price":8171.4},{"bar":111,"price":8174},{"bar":112,"price":8176},{"bar":113,"price":8178.8},
{"bar":115.5,"price":8204.9},{"bar":116.5,"price":8203.1},{"bar":117.5,"price":8201},{"bar":118.5,"price":8198.4},{"bar":119.5,"price":8195.7},{"bar":120.5,"price":8193},{"bar":121.5,"price":8190.5},
{"bar":122.5,"price":8163},{"bar":123.5,"price":8164.6},{"bar":124.5,"price":8165.7},{"bar":125.5,"price":8167},{"bar":126.5,"price":8168.6},{"bar":127.5,"price":8170.3},{"bar":128.5,"price":8171},{"bar":129.5,"price":8171.4},{"bar":130.5,"price":8171.6},
{"bar":131.5,"price":8196.4},{"bar":132.5,"price":8194.3},{"bar":133.5,"price":8193.2},{"bar":134.5,"price":8192.3},{"bar":135.5,"price":8191},{"bar":136.5,"price":8190},{"bar":137.5,"price":8188.9},{"bar":138.5,"price":8188},{"bar":139.5,"price":8187.2},{"bar":140.5,"price":8186.2},{"bar":141.5,"price":8185.5},{"bar":142.5,"price":8184.6},{"bar":143.5,"price":8183.5},{"bar":144.5,"price":8182},
{"bar":146.5,"price":8165.3},{"bar":147.5,"price":8165.3},{"bar":148.5,"price":8165.7},
{"bar":149,"price":8186.5},{"bar":150,"price":8186},{"bar":151,"price":8185.5},{"bar":152,"price":8185.3},{"bar":153,"price":8185},{"bar":154,"price":8184.6},{"bar":155,"price":8184.2},{"bar":156,"price":8183.5},
{"bar":157,"price":8164.9},{"bar":158,"price":8166},{"bar":159,"price":8167},{"bar":160,"price":8168.6},{"bar":161,"price":8170.3},{"bar":162,"price":8172},{"bar":163,"price":8173.6},{"bar":164,"price":8175.7},{"bar":165,"price":8177.8},{"bar":166,"price":8179.2},{"bar":167,"price":8180.1},{"bar":168,"price":8180.8},{"bar":169,"price":8181.5},{"bar":170,"price":8184.9},{"bar":171,"price":8187.6},
{"bar":179,"price":8204},{"bar":180,"price":8203.5},{"bar":181,"price":8202.4},{"bar":182,"price":8201.1},{"bar":183,"price":8200.4},{"bar":184,"price":8198.6},{"bar":185,"price":8197.3},{"bar":186,"price":8195.7},{"bar":187,"price":8193.6},{"bar":188,"price":8192.3},{"bar":189,"price":8191.4},{"bar":190,"price":8190.3},{"bar":191,"price":8188.9},{"bar":192,"price":8187.6},{"bar":193,"price":8186.9},{"bar":194,"price":8184.2},{"bar":195,"price":8182.2},{"bar":196,"price":8180.8},{"bar":197,"price":8179.7},{"bar":198,"price":8178.8},
{"bar":203,"price":8184.8},{"bar":205,"price":8183.7},{"bar":206,"price":8183.2},{"bar":207,"price":8182.8},{"bar":208,"price":8182.1},{"bar":209,"price":8181.4},{"bar":211,"price":8180.3},{"bar":212,"price":8179.4},{"bar":214,"price":8178},{"bar":215,"price":8176},{"bar":216,"price":8174},{"bar":217,"price":8172},{"bar":218,"price":8170},{"bar":219,"price":8166.6},{"bar":220,"price":8165.2},{"bar":222,"price":8162.5},{"bar":223,"price":8160.5},{"bar":224,"price":8157.8},{"bar":225,"price":8155.7},
{"bar":227,"price":8145.6},{"bar":228,"price":8147},{"bar":229,"price":8147.5},{"bar":230,"price":8151},{"bar":231,"price":8153.7},{"bar":232,"price":8157.1},{"bar":233,"price":8160.5},{"bar":234,"price":8163.9},{"bar":235,"price":8166.6},{"bar":236,"price":8170},{"bar":237,"price":8173.3},{"bar":238,"price":8175.3},
{"bar":239.4,"price":8190.6},{"bar":240.4,"price":8188.9},{"bar":241.4,"price":8185.5},{"bar":242.4,"price":8181.4},{"bar":243.4,"price":8175.1},{"bar":244.4,"price":8168.3},{"bar":245.4,"price":8163.2},{"bar":246.4,"price":8155.1},{"bar":247.4,"price":8149.6},{"bar":248.4,"price":8138.8},{"bar":249.4,"price":8132.7},
{"bar":251.4,"price":8102.7},{"bar":252.4,"price":8103.7},{"bar":253.4,"price":8104.8},{"bar":254.4,"price":8109.8},{"bar":255.4,"price":8113.2},{"bar":256.4,"price":8117.9},{"bar":257.4,"price":8122.6},{"bar":258.4,"price":8126},{"bar":259.4,"price":8130},{"bar":260.4,"price":8132.7},{"bar":262.4,"price":8138.2}
],
"segments":[
{"kind":"frame","bar":-14.46,"bar2":287.4,"price":8274.6,"price2":8274.6},{"kind":"frame","bar":287.4,"bar2":287.4,"price":8274.6,"price2":8027.3},{"kind":"frame","bar":-14.2,"bar2":-14.2,"price":8274.6,"price2":8027.3},
{"kind":"orange","bar":7.7,"bar2":88.6,"price":8243.4,"price2":8243.4},{"kind":"green","bar":7.7,"bar2":88.6,"price":8210.9,"price2":8210.9},{"kind":"orange","bar":7.7,"bar2":88.6,"price":8178,"price2":8178},{"kind":"gray","bar":7.7,"bar2":88.6,"price":8112.7,"price2":8112.7},
{"kind":"orange","bar":137.8,"bar2":164.3,"price":8197.9,"price2":8197.9},{"kind":"gray","bar":137.8,"bar2":164.3,"price":8239.7,"price2":8239.7},{"kind":"green","bar":137.8,"bar2":164.3,"price":8176.4,"price2":8176.4},{"kind":"orange","bar":137.8,"bar2":164.3,"price":8155.3,"price2":8155.3},{"kind":"gray","bar":137.8,"bar2":164.3,"price":8112.7,"price2":8112.7},
{"kind":"gray","bar":219.4,"bar2":232.6,"price":8191.4,"price2":8191.4},{"kind":"orange","bar":219.4,"bar2":232.6,"price":8161.8,"price2":8161.8},{"kind":"green","bar":219.4,"bar2":232.6,"price":8146.8,"price2":8146.8},{"kind":"orange","bar":219.4,"bar2":232.6,"price":8132.2,"price2":8132.2},{"kind":"gray","bar":219.4,"bar2":232.6,"price":8102.6,"price2":8102.6},
{"kind":"gray","bar":252.3,"bar2":264,"price":8161.4,"price2":8161.4},{"kind":"orange","bar":252.3,"bar2":264,"price":8141.9,"price2":8141.9},{"kind":"green","bar":252.3,"bar2":264,"price":8131.8,"price2":8131.8},{"kind":"orange","bar":252.3,"bar2":264,"price":8121.6,"price2":8121.6},{"kind":"gray","bar":252.3,"bar2":264,"price":8102.6,"price2":8102.6},
{"kind":"dash","bar":7.7,"bar2":74.8,"price":8112.7,"price2":8274},{"kind":"dash","bar":137.8,"bar2":164.3,"price":8112.7,"price2":8239.7},{"kind":"dash","bar":219.4,"bar2":232.6,"price":8102.6,"price2":8191.4},{"kind":"dash","bar":252.3,"bar2":264,"price":8102.6,"price2":8161.4},
{"kind":"trend","bar":-14.46,"bar2":270.15,"price":8200.4,"price2":8236},{"kind":"trend","bar":-5.2,"bar2":270.15,"price":8077.4,"price2":8113.5}
],
"band":[{"bar":-14.46,"bar2":308.3,"price":8027.3,"price2":8027.3}],
"waves":[
{"label":"1","kind":"navy","bar":224,"price":8146.4},{"label":"2","kind":"navy","bar":233.5,"price":8191},{"label":"4","kind":"navy","bar":245.5,"price":8146},{"label":"3","kind":"navy","bar":245.5,"price":8101},{"label":"1","kind":"red","bar":245.2,"price":8130.2},{"label":"2","kind":"red","bar":254.2,"price":8101},{"label":"3","kind":"red","bar":260.6,"price":8161},{"label":"4","kind":"red","bar":267,"price":8130.2}
],
"signs":[
{"label":"R","kind":"navy","bar":267.4,"price":8103},{"label":"+","kind":"navy","bar":250.5,"price":8162.2},{"label":"R","kind":"red","bar":286.5,"price":8162.2},{"label":"+","kind":"red","bar":267,"price":8121.3},{"label":"−","kind":"red","bar":268.8,"price":8142.7}
],
"tags":[
{"label":"8166.4","kind":"level","bar":270.15,"bar2":283.7,"price":8166},{"label":"8150.5","kind":"fast","bar":270.15,"bar2":283.7,"price":8150},{"label":"8137.6","kind":"level","bar":270.15,"bar2":283.7,"price":8134.6},{"label":"8141.0","kind":"last","bar":270.15,"bar2":283.7,"price":8141},{"label":"8134.5","kind":"slow","bar":270.15,"bar2":283.7,"price":8128},{"label":"8102.5","kind":"level","bar":270.15,"bar2":283.7,"price":8102}
],
"headerGray":[
{"label":"CAC 40 Futures, 5,","bar":-6.46,"price":8266}
],
"ohlc":[
{"label":"O","kind":"key","bar":56,"price":8266},{"label":"8149.2","kind":"val","bar":59.7,"price":8266},{"label":"H","kind":"key","bar":76.6,"price":8266},{"label":"8150.0","kind":"val","bar":80.3,"price":8266},{"label":"B","kind":"key","bar":97.2,"price":8266},{"label":"8141.0","kind":"val","bar":100.6,"price":8266},{"label":"C","kind":"key","bar":117.5,"price":8266},{"label":"8141.0","kind":"val","bar":121,"price":8266}
],
"names":[
{"label":"SAR","bar":-12.3,"price":8258},{"label":"MA","bar":-12.3,"price":8249.8},{"label":"BB","bar":-12.3,"price":8241.7}
],
"carets":[
{"bar":39.7,"price":8266.5},{"bar":-3.7,"price":8258},{"bar":-4.9,"price":8249.8},{"bar":-5.5,"price":8241.7}
],
"buttons":[
{"g":"◉","bar":46.2,"price":8266.5},{"g":"⚙","bar":51.4,"price":8266.5},
{"g":"◉","bar":2.8,"price":8258},{"g":"⚙","bar":8,"price":8258},{"g":"✕","bar":13.2,"price":8258},
{"g":"◉","bar":1.5,"price":8249.8},{"g":"⚙","bar":6.8,"price":8249.8},{"g":"✕","bar":12,"price":8249.8},
{"g":"◉","bar":0.9,"price":8241.7},{"g":"⚙","bar":6.2,"price":8241.7},{"g":"✕","bar":11.4,"price":8241.7}
],
"stoch":[
{"s":"k","bar":-14,"v":77},{"s":"k","bar":-12.4,"v":42.8},{"s":"k","bar":-10.4,"v":8.6},{"s":"k","bar":-8.8,"v":14.3},{"s":"k","bar":-6.3,"v":54.2},{"s":"k","bar":-3.2,"v":42.8},{"s":"k","bar":0.4,"v":20},{"s":"k","bar":2.5,"v":77},{"s":"k","bar":4,"v":97.4},{"s":"k","bar":9.1,"v":99.7},{"s":"k","bar":13.2,"v":80.3},{"s":"k","bar":17.3,"v":48.5},{"s":"k","bar":19.9,"v":33.7},{"s":"k","bar":22,"v":42.8},{"s":"k","bar":24,"v":59.9},{"s":"k","bar":26.9,"v":3},{"s":"k","bar":28.1,"v":3},{"s":"k","bar":30.7,"v":94},{"s":"k","bar":32.2,"v":100},{"s":"k","bar":35.8,"v":71},{"s":"k","bar":38.9,"v":100},{"s":"k","bar":42,"v":59.9},{"s":"k","bar":43.5,"v":65.6},{"s":"k","bar":45.5,"v":100},{"s":"k","bar":48.1,"v":91.7},{"s":"k","bar":49.6,"v":97.4},{"s":"k","bar":51.2,"v":94},{"s":"k","bar":55.3,"v":100},{"s":"k","bar":56.8,"v":82.6},{"s":"k","bar":58.4,"v":42.8},{"s":"k","bar":59.9,"v":42.8},{"s":"k","bar":63,"v":80.3},{"s":"k","bar":65,"v":54.2},{"s":"k","bar":67.6,"v":0.7},{"s":"k","bar":72.7,"v":0},{"s":"k","bar":75.8,"v":8.6},{"s":"k","bar":79.9,"v":40.5},{"s":"k","bar":82.5,"v":42.8},{"s":"k","bar":85,"v":88.3},{"s":"k","bar":87.6,"v":100},{"s":"k","bar":90.2,"v":65.6},{"s":"k","bar":92.7,"v":39.4},{"s":"k","bar":94.8,"v":71.2},{"s":"k","bar":97.3,"v":54.2},{"s":"k","bar":100.9,"v":8.6},{"s":"k","bar":102.5,"v":20},{"s":"k","bar":105.5,"v":100},{"s":"k","bar":109.1,"v":50.7},{"s":"k","bar":111.2,"v":65.6},{"s":"k","bar":114.8,"v":59.9},{"s":"k","bar":118.4,"v":6.4},{"s":"k","bar":120.9,"v":37.1},{"s":"k","bar":124.5,"v":100},{"s":"k","bar":127.1,"v":77},{"s":"k","bar":130.2,"v":86},{"s":"k","bar":133.2,"v":46.2},{"s":"k","bar":135.3,"v":65.6},{"s":"k","bar":137.3,"v":48.5},{"s":"k","bar":139.4,"v":54.2},{"s":"k","bar":142.5,"v":42.8},{"s":"k","bar":145,"v":63.3},{"s":"k","bar":146.6,"v":48.5},{"s":"k","bar":148.6,"v":0.7},{"s":"k","bar":150.2,"v":3},{"s":"k","bar":153.2,"v":80.3},{"s":"k","bar":155.8,"v":80.3},{"s":"k","bar":158.4,"v":100},{"s":"k","bar":160.4,"v":94},{"s":"k","bar":164,"v":96.3},{"s":"k","bar":168.6,"v":80.3},{"s":"k","bar":170.7,"v":82.6},{"s":"k","bar":173.8,"v":16.6},{"s":"k","bar":175.3,"v":14.3},{"s":"k","bar":176.8,"v":28},{"s":"k","bar":178.9,"v":25.7},{"s":"k","bar":182.5,"v":3},{"s":"k","bar":186.1,"v":12},{"s":"k","bar":188.6,"v":0},{"s":"k","bar":190.7,"v":0},{"s":"k","bar":192.7,"v":22.3},{"s":"k","bar":196.3,"v":0},{"s":"k","bar":198.9,"v":3},{"s":"k","bar":202.2,"v":29.1},{"s":"k","bar":205,"v":14.3},{"s":"k","bar":205.6,"v":0},{"s":"k","bar":208.1,"v":71.2},{"s":"k","bar":210.2,"v":91.7},{"s":"k","bar":212.2,"v":71.2},{"s":"k","bar":216.3,"v":0.7},{"s":"k","bar":220.4,"v":20},{"s":"k","bar":225.5,"v":5.2},{"s":"k","bar":229.1,"v":100},{"s":"k","bar":233.2,"v":100},{"s":"k","bar":236.3,"v":80.3},{"s":"k","bar":239.4,"v":75.8},{"s":"k","bar":242,"v":0.7},{"s":"k","bar":247.1,"v":3},{"s":"k","bar":252.2,"v":42.8},{"s":"k","bar":254,"v":94},{"s":"k","bar":258.4,"v":97.4},{"s":"k","bar":262,"v":90.6},{"s":"k","bar":263.3,"v":77},
{"s":"d","bar":-14,"v":85},{"s":"d","bar":-9.5,"v":14},{"s":"d","bar":-5.2,"v":54},{"s":"d","bar":0.9,"v":23},{"s":"d","bar":4,"v":88},{"s":"d","bar":5,"v":97},{"s":"d","bar":9,"v":100},{"s":"d","bar":14.3,"v":77},{"s":"d","bar":18.9,"v":37},{"s":"d","bar":21,"v":37},{"s":"d","bar":25,"v":60},{"s":"d","bar":28.1,"v":9},{"s":"d","bar":31.9,"v":96},{"s":"d","bar":36.8,"v":74},{"s":"d","bar":39.9,"v":99},{"s":"d","bar":42.5,"v":62},{"s":"d","bar":46.6,"v":97},{"s":"d","bar":51.2,"v":96},{"s":"d","bar":56.3,"v":100},{"s":"d","bar":59.4,"v":43},{"s":"d","bar":64,"v":80},{"s":"d","bar":68.6,"v":3},{"s":"d","bar":72.7,"v":0},{"s":"d","bar":77.9,"v":20},{"s":"d","bar":82.5,"v":43},{"s":"d","bar":88.1,"v":96},{"s":"d","bar":93.2,"v":40},{"s":"d","bar":95.8,"v":69},{"s":"d","bar":102,"v":14},{"s":"d","bar":106.6,"v":94},{"s":"d","bar":110.2,"v":54},{"s":"d","bar":114.8,"v":62},{"s":"d","bar":119.4,"v":9},{"s":"d","bar":125.5,"v":100},{"s":"d","bar":128.6,"v":80},{"s":"d","bar":131.2,"v":83},{"s":"d","bar":134.8,"v":51},{"s":"d","bar":138.4,"v":51},{"s":"d","bar":143.5,"v":46},{"s":"d","bar":146,"v":62},{"s":"d","bar":150.2,"v":5},{"s":"d","bar":154.3,"v":77},{"s":"d","bar":156.8,"v":83},{"s":"d","bar":159.4,"v":99},{"s":"d","bar":164,"v":96},{"s":"d","bar":169.7,"v":80},{"s":"d","bar":171.7,"v":80},{"s":"d","bar":174.8,"v":20},{"s":"d","bar":178.4,"v":28},{"s":"d","bar":183.5,"v":5},{"s":"d","bar":187.1,"v":12},{"s":"d","bar":191.7,"v":0},{"s":"d","bar":193.8,"v":20},{"s":"d","bar":197.9,"v":0},{"s":"d","bar":203,"v":23},{"s":"d","bar":206.6,"v":26},{"s":"d","bar":209.1,"v":71},{"s":"d","bar":211.2,"v":91},{"s":"d","bar":213.2,"v":77},{"s":"d","bar":217.3,"v":3},{"s":"d","bar":221.5,"v":20},{"s":"d","bar":226.6,"v":5},{"s":"d","bar":230.7,"v":100},{"s":"d","bar":234.3,"v":100},{"s":"d","bar":237.4,"v":80},{"s":"d","bar":240.4,"v":71},{"s":"d","bar":243.5,"v":3},{"s":"d","bar":248.1,"v":5},{"s":"d","bar":253.3,"v":48},{"s":"d","bar":255.3,"v":88},{"s":"d","bar":258.9,"v":96},{"s":"d","bar":263.3,"v":88}
],
"macd":[
{"s":"macd","bar":-13.9,"v":-18.3},{"s":"macd","bar":-9.3,"v":-21.7},{"s":"macd","bar":-5.2,"v":-18.7},{"s":"macd","bar":0.9,"v":-18.3},{"s":"macd","bar":5,"v":-11},{"s":"macd","bar":9.1,"v":-6.7},{"s":"macd","bar":15.3,"v":-5},{"s":"macd","bar":21.4,"v":-3.7},{"s":"macd","bar":28.6,"v":-5},{"s":"macd","bar":32.7,"v":-1.7},{"s":"macd","bar":37.9,"v":2.3},{"s":"macd","bar":43,"v":3.3},{"s":"macd","bar":47.1,"v":8.3},{"s":"macd","bar":52.2,"v":11.7},{"s":"macd","bar":56.3,"v":15},{"s":"macd","bar":60.4,"v":14},{"s":"macd","bar":64.5,"v":12.3},{"s":"macd","bar":67.6,"v":4},{"s":"macd","bar":71.7,"v":-3.7},{"s":"macd","bar":75.8,"v":-5},{"s":"macd","bar":83,"v":-6.3},{"s":"macd","bar":88.1,"v":-3.7},{"s":"macd","bar":98.4,"v":-2.7},{"s":"macd","bar":102.5,"v":-3.7},{"s":"macd","bar":105.5,"v":0.7},{"s":"macd","bar":112.7,"v":1.3},{"s":"macd","bar":118.9,"v":0},{"s":"macd","bar":124,"v":1.3},{"s":"macd","bar":131.2,"v":1.3},{"s":"macd","bar":139.4,"v":0.3},{"s":"macd","bar":147.6,"v":-1.7},{"s":"macd","bar":154.8,"v":-2},{"s":"macd","bar":159.9,"v":0.7},{"s":"macd","bar":170.2,"v":2.3},{"s":"macd","bar":178.4,"v":2.3},{"s":"macd","bar":187.6,"v":0},{"s":"macd","bar":196.8,"v":-1.7},{"s":"macd","bar":205,"v":-3.3},{"s":"macd","bar":211.2,"v":-2.7},{"s":"macd","bar":217.4,"v":-5.3},{"s":"macd","bar":224.5,"v":-6.7},{"s":"macd","bar":229.7,"v":-3.7},{"s":"macd","bar":233.8,"v":1.3},{"s":"macd","bar":237.9,"v":2.3},{"s":"macd","bar":240.9,"v":-2.7},{"s":"macd","bar":244,"v":-9.3},{"s":"macd","bar":247.1,"v":-13.3},{"s":"macd","bar":251.7,"v":-13.3},{"s":"macd","bar":255.3,"v":-7.7},{"s":"macd","bar":259.4,"v":-1.7},{"s":"macd","bar":263.3,"v":-0.3},
{"s":"signal","bar":-13.9,"v":-18.3},{"s":"signal","bar":-9.3,"v":-20},{"s":"signal","bar":0.9,"v":-18.7},{"s":"signal","bar":6,"v":-15},{"s":"signal","bar":10.2,"v":-9.3},{"s":"signal","bar":16.3,"v":-5.7},{"s":"signal","bar":22.5,"v":-4},{"s":"signal","bar":28.6,"v":-4.3},{"s":"signal","bar":34.8,"v":-2},{"s":"signal","bar":40.9,"v":1.3},{"s":"signal","bar":47.1,"v":5.7},{"s":"signal","bar":55.3,"v":11.7},{"s":"signal","bar":63.5,"v":15.7},{"s":"signal","bar":67.6,"v":14},{"s":"signal","bar":71.7,"v":7.3},{"s":"signal","bar":75.8,"v":-1},{"s":"signal","bar":79.9,"v":-5},{"s":"signal","bar":85,"v":-6.3},{"s":"signal","bar":93.2,"v":-3.7},{"s":"signal","bar":102.5,"v":-2.7},{"s":"signal","bar":106.6,"v":-0.3},{"s":"signal","bar":114.8,"v":0.7},{"s":"signal","bar":123,"v":0.7},{"s":"signal","bar":139.4,"v":0.7},{"s":"signal","bar":148.6,"v":-1.7},{"s":"signal","bar":155.8,"v":-2},{"s":"signal","bar":165,"v":0.7},{"s":"signal","bar":177.3,"v":2.3},{"s":"signal","bar":188.6,"v":-0.3},{"s":"signal","bar":206.1,"v":-2.7},{"s":"signal","bar":217.4,"v":-6},{"s":"signal","bar":227.6,"v":-6},{"s":"signal","bar":233.8,"v":-0.3},{"s":"signal","bar":238.9,"v":1.3},{"s":"signal","bar":242,"v":-1},{"s":"signal","bar":247.1,"v":-7.7},{"s":"signal","bar":252.2,"v":-12.7},{"s":"signal","bar":257.4,"v":-10.3},{"s":"signal","bar":263.3,"v":-2.7}
],
"hist":[
{"bar":-12,"v":-1},{"bar":-11,"v":-1},{"bar":-10,"v":-1},{"bar":-9,"v":-1},{"bar":-6,"v":-1},{"bar":-5,"v":-1},{"bar":-4,"v":-1},{"bar":-3,"v":-1},{"bar":-2,"v":-1},{"bar":2,"v":-1},{"bar":3,"v":0},{"bar":4,"v":0.5},{"bar":5,"v":1},{"bar":6,"v":2},{"bar":7,"v":3},{"bar":8,"v":3},{"bar":9,"v":3.5},{"bar":10,"v":4.5},{"bar":11,"v":4},{"bar":12,"v":3.5},{"bar":13,"v":2.5},{"bar":14,"v":2},{"bar":15,"v":1.5},{"bar":16,"v":0},{"bar":18,"v":-1},{"bar":19,"v":-1},{"bar":20,"v":-1},{"bar":21,"v":-1},{"bar":22,"v":-1},{"bar":26,"v":-1},{"bar":27,"v":-1},{"bar":29,"v":-1},{"bar":31,"v":1},{"bar":32,"v":1.5},{"bar":33,"v":1},{"bar":34,"v":1},{"bar":35,"v":1},{"bar":36,"v":2},{"bar":37,"v":1},{"bar":38,"v":1},{"bar":44,"v":0},{"bar":45,"v":0},{"bar":46,"v":0.5},{"bar":47,"v":1},{"bar":48,"v":1},{"bar":49,"v":1.5},{"bar":50,"v":1.5},{"bar":51,"v":1},{"bar":52,"v":1},{"bar":53,"v":1},{"bar":54,"v":1.5},{"bar":55,"v":1},{"bar":56,"v":0},{"bar":57,"v":-1},{"bar":58,"v":-1},{"bar":59,"v":-1},{"bar":60,"v":-1},{"bar":61,"v":-1},
{"bar":66,"v":-2},{"bar":67,"v":-3},{"bar":68,"v":-5},{"bar":69,"v":-7},{"bar":70,"v":-8},{"bar":71,"v":-9},{"bar":72,"v":-10},{"bar":73,"v":-9.5},{"bar":74,"v":-8},{"bar":75,"v":-6},{"bar":76,"v":-4},{"bar":77,"v":-3},{"bar":78,"v":-2},{"bar":79,"v":-2},{"bar":80,"v":-1},{"bar":82,"v":-1},{"bar":84,"v":-1},{"bar":87,"v":-1},{"bar":92,"v":0},{"bar":93,"v":0},{"bar":94,"v":0},{"bar":95,"v":0},{"bar":101,"v":-1},{"bar":102,"v":-1},{"bar":103,"v":-1},{"bar":105,"v":-0.5},{"bar":106,"v":-0.5},{"bar":107,"v":0},{"bar":108,"v":0},{"bar":109,"v":0},{"bar":118,"v":-2},{"bar":119,"v":-2.5},{"bar":120,"v":-2.5},{"bar":121,"v":-2},{"bar":123,"v":-1},{"bar":125,"v":-1},{"bar":127,"v":-1},{"bar":129,"v":-1},{"bar":132,"v":-2},{"bar":133,"v":-2},{"bar":134,"v":-2},{"bar":135,"v":-2},{"bar":136,"v":-2},
{"bar":142,"v":-1},{"bar":144,"v":-1},{"bar":146,"v":-1},{"bar":164,"v":-1},{"bar":166,"v":-1},{"bar":168,"v":-1},{"bar":173,"v":-1},{"bar":175,"v":-1},{"bar":182,"v":-1},{"bar":184,"v":-1},{"bar":186,"v":-1},{"bar":188,"v":-1},{"bar":190,"v":-1},{"bar":193,"v":-1},{"bar":204,"v":-1},{"bar":205,"v":-1},{"bar":206,"v":-1},{"bar":214,"v":-1},{"bar":216,"v":-0.5},{"bar":218,"v":-0.5},{"bar":220,"v":-1},{"bar":222,"v":-1},{"bar":224,"v":-1},{"bar":226,"v":-1},{"bar":228,"v":0},{"bar":230,"v":1},{"bar":231,"v":2},{"bar":232,"v":3},{"bar":233,"v":3},{"bar":234,"v":3},{"bar":235,"v":3},{"bar":236,"v":2},{"bar":237,"v":2},{"bar":238,"v":1},{"bar":240,"v":-2},{"bar":241,"v":-3},{"bar":242,"v":-4.5},{"bar":243,"v":-6},{"bar":244,"v":-7},{"bar":245,"v":-8},{"bar":246,"v":-9},{"bar":247,"v":-8},{"bar":248,"v":-7},{"bar":249,"v":-6},{"bar":250,"v":-4},{"bar":251,"v":-3},{"bar":252,"v":-1},{"bar":253,"v":0},{"bar":254,"v":1.5},{"bar":255,"v":2},{"bar":256,"v":2.5},{"bar":257,"v":3},{"bar":258,"v":3.5},{"bar":259,"v":3.5},{"bar":260,"v":3},{"bar":261,"v":3},{"bar":262,"v":2},{"bar":263,"v":1}
]
},
"vconcat":[
{
"width":925,"height":502,
"resolve":{"scale":{"color":"independent"}},
"encoding":{
"x":{"field":"bar","type":"quantitative","title":null,"scale":{"domain":[-14.46,270.15],"nice":false,"zero":false,"padding":0},"axis":{"labels":false,"ticks":false,"title":null}},
"y":{"field":"price","type":"quantitative","title":null,"scale":{"domain":[8070.5,8274.2],"nice":false,"zero":false,"padding":0},"axis":{"orient":"right","title":null,"values":[8080,8100,8120,8140,8160,8180,8200,8220,8240,8260],"format":".1f"}}
},
"layer":[
{"data":{"name":"segments"},"transform":[{"filter":"datum.kind!='dash'&&datum.kind!='trend'"}],"mark":{"type":"rule","strokeWidth":1},
"encoding":{"x2":{"field":"bar2"},"y2":{"field":"price2"},"color":{"field":"kind","type":"nominal","legend":null,"scale":{"domain":["frame","orange","green","gray"],"range":["#e2e4ec","#ff9800","#33c233","#777777"]}}}},
{"data":{"name":"band"},"mark":{"type":"rule","strokeWidth":3,"color":"#ececec"},"encoding":{"x2":{"field":"bar2"},"y2":{"field":"price2"}}},
{"data":{"name":"lines"},"transform":[{"filter":"datum.s=='u'||datum.s=='l'"}],"mark":{"type":"line","strokeWidth":1,"color":"#7b7bff"},"encoding":{"detail":{"field":"s"}}},
{"data":{"name":"candles"},"mark":{"type":"rule","strokeWidth":1},
"encoding":{"y":{"field":"h","type":"quantitative"},"y2":{"field":"l"},"color":{"condition":{"test":"datum.c>=datum.o","value":"#12502f"},"value":"#5e1c12"}}},
{"data":{"name":"candles"},"mark":{"type":"bar","size":2,"strokeWidth":1},
"encoding":{"y":{"field":"o","type":"quantitative"},"y2":{"field":"c"},"fill":{"condition":{"test":"datum.c>=datum.o","value":"#0a9c5a"},"value":"#ea4a3c"},"stroke":{"condition":{"test":"datum.c>=datum.o","value":"#12502f"},"value":"#5e1c12"}}},
{"data":{"name":"lines"},"transform":[{"filter":"datum.s=='slow'||datum.s=='fast'"}],"mark":{"type":"line","strokeWidth":1},
"encoding":{"color":{"field":"s","type":"nominal","legend":null,"scale":{"domain":["slow","fast"],"range":["#ffba6b","#ff66ee"]}}}},
{"data":{"name":"sar"},"mark":{"type":"point","shape":"cross","filled":true,"size":10,"color":"#4d4dff","opacity":1}},
{"data":{"name":"segments"},"transform":[{"filter":"datum.kind=='dash'"}],"mark":{"type":"rule","strokeWidth":1,"color":"#8c8c8c","strokeDash":[6,6]},"encoding":{"x2":{"field":"bar2"},"y2":{"field":"price2"}}},
{"data":{"name":"segments"},"transform":[{"filter":"datum.kind=='trend'"}],"mark":{"type":"rule","strokeWidth":1,"color":"#1f9d80"},"encoding":{"x2":{"field":"bar2"},"y2":{"field":"price2"}}},
{"data":{"name":"tags"},"mark":{"type":"rule","strokeWidth":15},
"encoding":{"x2":{"field":"bar2"},"color":{"field":"kind","type":"nominal","legend":null,"scale":{"domain":["level","fast","last","slow"],"range":["#0000ff","#ff00ff","#5b7be8","#ff9800"]}}}},
{"data":{"name":"tags"},"mark":{"type":"text","align":"left","baseline":"middle","dx":7,"fontWeight":"bold","fontSize":11.5,"color":"white"},"encoding":{"text":{"field":"label"}}},
{"data":{"name":"waves"},"mark":{"type":"point","shape":"circle","filled":true,"size":1156,"fill":"white","fillOpacity":0.45,"stroke":"#e0e6f6","strokeWidth":2,"opacity":1}},
{"data":{"name":"waves"},"mark":{"type":"text","fontSize":20,"baseline":"middle","fontWeight":"bold"},
"encoding":{"text":{"field":"label"},"color":{"field":"kind","type":"nominal","legend":null,"scale":{"domain":["navy","red"],"range":["#2f3a94","#ff0000"]}}}},
{"data":{"name":"signs"},"mark":{"type":"text","fontSize":20,"baseline":"middle"},
"encoding":{"text":{"field":"label"},"color":{"field":"kind","type":"nominal","legend":null,"scale":{"domain":["navy","red"],"range":["#2f3a94","#ff0000"]}}}},
{"data":{"name":"headerGray"},"mark":{"type":"text","align":"left","baseline":"middle","font":"Open Sans","fontSize":16,"color":"#555"},"encoding":{"text":{"field":"label"}}},
{"data":{"name":"ohlc"},"mark":{"type":"text","align":"left","baseline":"middle","font":"Open Sans","fontSize":14.5},
"encoding":{"text":{"field":"label"},"color":{"field":"kind","type":"nominal","legend":null,"scale":{"domain":["key","val"],"range":["#666666","#6b2f2f"]}}}},
{"data":{"name":"names"},"mark":{"type":"text","align":"left","baseline":"middle","font":"Open Sans","fontSize":12,"color":"#666"},"encoding":{"text":{"field":"label"}}},
{"data":{"name":"carets"},"mark":{"type":"point","shape":"triangle-down","filled":true,"size":30,"color":"#c4c4c4","opacity":1}},
{"data":{"name":"buttons"},"mark":{"type":"point","shape":"square","filled":true,"size":225,"color":"#dcdcdc","opacity":1}},
{"data":{"name":"buttons"},"mark":{"type":"text","font":"DejaVu Sans","fontSize":11,"baseline":"middle","color":"white"},"encoding":{"text":{"field":"g"}}},
{"data":{"values":[{"bar":-9.85,"price":8266.5}]},"mark":{"type":"point","shape":"square","filled":false,"size":110,"color":"#555","opacity":1,"strokeWidth":1}},
{"data":{"values":[{"label":"Investing","bar":-10.15,"price":8086.7}]},"mark":{"type":"text","align":"left","baseline":"middle","fontSize":21,"fontWeight":"bold","color":"#111"},"encoding":{"text":{"field":"label"}}},
{"data":{"values":[{"label":".com","bar":18.2,"price":8085.5}]},"mark":{"type":"text","align":"left","baseline":"middle","fontSize":15,"color":"#666"},"encoding":{"text":{"field":"label"}}}
]
},
{
"width":925,"height":39,
"resolve":{"scale":{"color":"independent"}},
"encoding":{
"x":{"field":"bar","type":"quantitative","title":null,"scale":{"domain":[-14.46,270.15],"nice":false,"zero":false,"padding":0},"axis":{"labels":false,"ticks":false,"title":null}},
"y":{"field":"v","type":"quantitative","title":null,"scale":{"domain":[-14,118],"nice":false,"zero":false,"padding":0},"axis":{"orient":"right","title":null,"values":[0],"format":".4f"}}
},
"layer":[
{"data":{"values":[{"bar":-14.46,"bar2":270.15,"v":80,"v2":20}]},"mark":{"type":"rect","color":"#e3cfe6"},"encoding":{"x2":{"field":"bar2"},"y2":{"field":"v2"}}},
{"data":{"values":[{"bar":-14.46,"bar2":270.15,"v":80},{"bar":-14.46,"bar2":270.15,"v":20}]},"mark":{"type":"rule","color":"#666","strokeDash":[6,4],"strokeWidth":1},"encoding":{"x2":{"field":"bar2"}}},
{"data":{"name":"stoch"},"mark":{"type":"line","strokeWidth":1},"encoding":{"color":{"field":"s","type":"nominal","legend":null,"scale":{"domain":["k","d"],"range":["#5a5aff","#ff5a5a"]}}}},
{"data":{"values":[{"label":"Stoch RSI","bar":-12.3,"v":65.5}]},"mark":{"type":"text","align":"left","baseline":"middle","font":"Open Sans","fontSize":12,"color":"#555"},"encoding":{"text":{"field":"label"}}},
{"data":{"values":[{"bar":4.9,"v":69}]},"mark":{"type":"point","shape":"triangle-down","filled":true,"size":30,"color":"#bbb","opacity":1}},
{"data":{"values":[{"g":"◉","bar":11.7,"v":65.5},{"g":"⚙","bar":16.9,"v":65.5},{"g":"✕","bar":21.8,"v":65.5}]},"mark":{"type":"point","shape":"square","filled":true,"size":225,"color":"#999","opacity":0.45}},
{"data":{"values":[{"g":"◉","bar":11.7,"v":65.5},{"g":"⚙","bar":16.9,"v":65.5},{"g":"✕","bar":21.8,"v":65.5}]},"mark":{"type":"text","font":"DejaVu Sans","fontSize":11,"baseline":"middle","color":"white"},"encoding":{"text":{"field":"g"}}},
{"data":{"values":[{"bar":270.15,"bar2":284.9,"v":108}]},"mark":{"type":"rule","strokeWidth":7,"color":"#ff0000"},"encoding":{"x2":{"field":"bar2"}}},
{"data":{"values":[{"label":"76.0556","bar":270.15,"bar2":285.4,"v":75.8}]},"mark":{"type":"rule","strokeWidth":15,"color":"#0000ff"},"encoding":{"x2":{"field":"bar2"}}},
{"data":{"values":[{"label":"76.0556","bar":270.15,"v":75.8}]},"mark":{"type":"text","align":"left","baseline":"middle","dx":7,"fontWeight":"bold","fontSize":11.5,"color":"white"},"encoding":{"text":{"field":"label"}}}
]
},
{
"width":925,"height":47,
"resolve":{"scale":{"color":"independent"}},
"encoding":{
"x":{"field":"bar","type":"quantitative","title":null,"scale":{"domain":[-14.46,270.15],"nice":false,"zero":false,"padding":0},"axis":{"title":null,"values":[0,36,72,108,132,168,204,240],"labelExpr":"datum.value==0?'12:00':datum.value==36?'15:00':datum.value==72?'18:00':datum.value==108?'21:00':datum.value==132?'7':datum.value==168?'03:00':datum.value==204?'06:00':'09:00'","labelPadding":1}},
"y":{"field":"v","type":"quantitative","title":null,"scale":{"domain":[-26,20.7],"nice":false,"zero":false,"padding":0},"axis":{"orient":"right","title":null,"values":[]}}
},
"layer":[
{"data":{"name":"hist"},"mark":{"type":"rule","strokeWidth":1,"color":"#ff4444"},"encoding":{"y2":{"datum":-1.7}}},
{"data":{"name":"macd"},"mark":{"type":"line","strokeWidth":1},"encoding":{"color":{"field":"s","type":"nominal","legend":null,"scale":{"domain":["macd","signal"],"range":["#5a5aff","#ff5a5a"]}}}},
{"data":{"values":[{"label":"MACD","bar":-12.3,"v":6}]},"mark":{"type":"text","align":"left","baseline":"middle","font":"Open Sans","fontSize":12,"color":"#555"},"encoding":{"text":{"field":"label"}}},
{"data":{"values":[{"bar":-0.6,"v":5}]},"mark":{"type":"point","shape":"triangle-down","filled":true,"size":30,"color":"#c4c4c4","opacity":1}},
{"data":{"values":[{"bar":5.8,"v":5},{"bar":11.1,"v":5},{"bar":16.3,"v":5}]},"mark":{"type":"point","shape":"square","filled":true,"size":225,"color":"#dcdcdc","opacity":1}},
{"data":{"values":[{"g":"◉","bar":5.8,"v":5},{"g":"⚙","bar":11.1,"v":5},{"g":"✕","bar":16.3,"v":5}]},"mark":{"type":"text","font":"DejaVu Sans","fontSize":11,"baseline":"middle","color":"white"},"encoding":{"text":{"field":"g"}}},
{"data":{"values":[{"bar":270.15,"bar2":284.9,"v":-22}]},"mark":{"type":"rule","strokeWidth":2,"color":"#ff0000"},"encoding":{"x2":{"field":"bar2"}}},
{"data":{"values":[{"bar":270.15,"bar2":283.7,"v":1}]},"mark":{"type":"rule","strokeWidth":15,"color":"#ff0000"},"encoding":{"x2":{"field":"bar2"}}},
{"data":{"values":[{"label":"2.5667","bar":270.15,"v":1}]},"mark":{"type":"text","align":"left","baseline":"middle","dx":7,"fontWeight":"bold","fontSize":11.5,"color":"white"},"encoding":{"text":{"field":"label"}}},
{"data":{"values":[{"bar":270.15,"bar2":284.9,"v":-14}]},"mark":{"type":"rule","strokeWidth":15,"color":"#0000ff"},"encoding":{"x2":{"field":"bar2"}}},
{"data":{"values":[{"label":"-0.1057","bar":270.15,"v":-14}]},"mark":{"type":"text","align":"left","baseline":"middle","dx":7,"fontWeight":"bold","fontSize":11.5,"color":"white"},"encoding":{"text":{"field":"label"}}}
]
}
]
}
